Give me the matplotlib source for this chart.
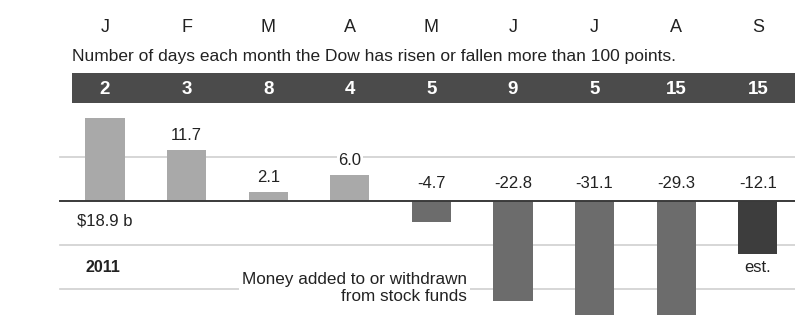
import matplotlib
matplotlib.use('Agg')
import matplotlib.pyplot as plt
import numpy as np

plt.rcParams['font.family'] = ['Liberation Sans', 'DejaVu Sans']

# ── data ──
months = ['J', 'F', 'M', 'A', 'M', 'J', 'J', 'A', 'S']
big_move_days = [2, 3, 8, 4, 5, 9, 5, 15, 15]
flows = [18.9, 11.7, 2.1, 6.0, -4.7, -22.8, -31.1, -29.3, -12.1]
labels = ['$18.9 b', '11.7', '2.1', '6.0', '-4.7', '-22.8', '-31.1', '-29.3', '-12.1']

# ── colours ──
C_POS = '#a9a9a9'
C_NEG = '#6c6c6c'
C_EST = '#3d3d3d'
C_BAND = '#4b4b4b'
C_GRID = '#cfcfcf'
C_TEXT = '#222222'

W, H = 795, 315
fig = plt.figure(figsize=(W / 100, H / 100), dpi=100)
ax = fig.add_axes([0, 0, 1, 1])

# pixel mapping: bar centres at 105 + 81.6*i, zero line at y=201 px, 4.39 px per $1b
step = 81.6
x0 = 105
ppu = 4.39
ax.set_xlim(-x0 / step, (W - x0) / step)
ax.set_ylim(-(H - 201) / ppu, 201 / ppu)
ax.axis('off')

x = np.arange(len(months))

def fx(px):
    return px / W

def fy(py):
    return 1 - py / H

# grid lines every 10
for g in [10, -10, -20]:
    ax.plot([-(x0 - 60) / step, (W - x0) / step], [g, g], color=C_GRID, lw=1.2, zorder=0)
ax.plot([-(x0 - 60) / step, (W - x0) / step], [0, 0], color='#3a3a3a', lw=1.4, zorder=3)

cols = [C_POS if v > 0 else C_NEG for v in flows]
cols[-1] = C_EST
ax.bar(x, flows, width=0.48, color=cols, zorder=2)

# value labels
for i, (v, lab) in enumerate(zip(flows, labels)):
    if i == 0:
        ax.text(fx(77), fy(221), lab, transform=ax.transAxes, ha='left', va='center',
                fontsize=12, color=C_TEXT)
    elif v > 0:
        ax.text(i, v + 14 / ppu, lab, ha='center', va='center', fontsize=12,
                color=C_TEXT, zorder=4,
                bbox=dict(facecolor='white', edgecolor='none', pad=1))
    else:
        ax.text(i, 18 / ppu, lab, ha='center', va='center', fontsize=12,
                color=C_TEXT, zorder=4)

# month letters
for i, m in enumerate(months):
    ax.text(i, fy(27), m, transform=ax.get_xaxis_transform(), ha='center', va='center',
            fontsize=13, color=C_TEXT)

ax.text(fx(72), fy(56), 'Number of days each month the Dow has risen or fallen more than 100 points.',
        transform=ax.transAxes, ha='left', va='center', fontsize=12.5, color=C_TEXT)

# dark band with counts
band = plt.Rectangle((fx(72), fy(103)), 1 - fx(72), (103 - 73) / H, transform=ax.transAxes,
                     facecolor=C_BAND, edgecolor='none', zorder=1)
ax.add_patch(band)
for i, d in enumerate(big_move_days):
    ax.text(i, fy(89), str(d), transform=ax.get_xaxis_transform(), ha='center', va='center',
            fontsize=13.5, fontweight='bold', color='white', zorder=2)

# annotations
ax.text(fx(86), fy(268), '2011', transform=ax.transAxes, ha='left', va='center',
        fontsize=11.5, fontweight='bold', color=C_TEXT)
ax.text(fx(467), fy(288), 'Money added to or withdrawn\nfrom stock funds', transform=ax.transAxes,
        ha='right', va='center', fontsize=12.3, color=C_TEXT, linespacing=1.2, zorder=4,
        bbox=dict(facecolor='white', edgecolor='none', pad=2))
ax.text(8, fy(267), 'est.', transform=ax.get_xaxis_transform(), ha='center', va='center',
        fontsize=12, color=C_TEXT)

fig.savefig('out.png', dpi=100, facecolor='white')
